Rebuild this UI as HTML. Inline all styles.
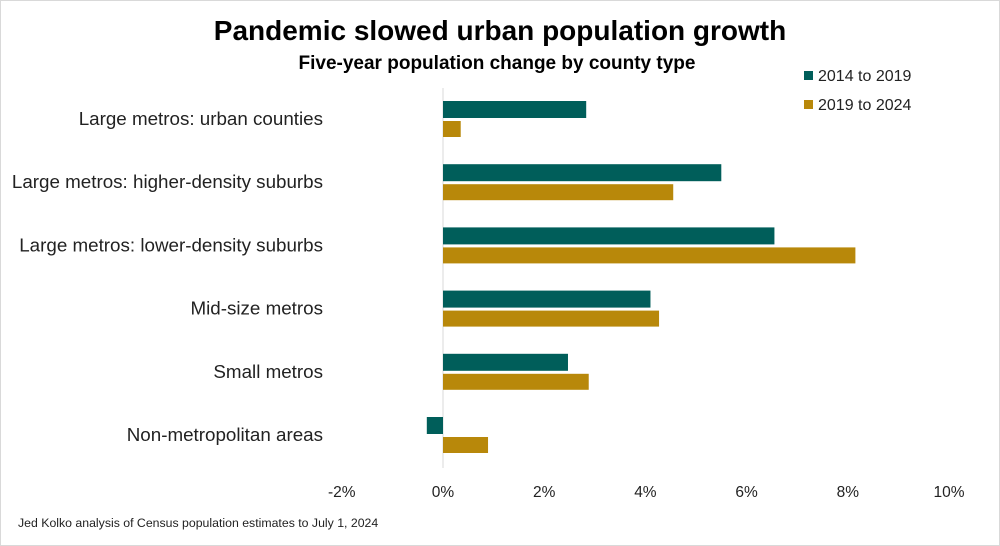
<!DOCTYPE html>
<html><head><meta charset="utf-8"><style>
body{margin:0;background:#fff;font-family:"Liberation Sans",sans-serif}
svg{display:block}
</style></head><body>
<svg id="chart" width="1000" height="546" viewBox="0 0 1000 546">
<rect x="0.5" y="0.5" width="999" height="545" fill="#fff" stroke="#d9d9d9"/>
<text x="500" y="40" text-anchor="middle" font-size="28" font-weight="bold" fill="#000">Pandemic slowed urban population growth</text>
<text x="497" y="69" text-anchor="middle" font-size="19" font-weight="bold" fill="#000">Five-year population change by county type</text>
<rect x="804" y="71" width="9" height="9" fill="#005e5a"/>
<text x="818" y="81" font-size="16" fill="#222">2014 to 2019</text>
<rect x="804" y="100" width="9" height="9" fill="#b8880a"/>
<text x="818" y="110" font-size="16" fill="#222">2019 to 2024</text>
<text x="18" y="527" font-size="12.3" fill="#222">Jed Kolko analysis of Census population estimates to July 1, 2024</text>
<g id="plot"></g>
</svg>
<script>
const categories=["Large metros: urban counties","Large metros: higher-density suburbs","Large metros: lower-density suburbs","Mid-size metros","Small metros","Non-metropolitan areas"];
const series2014=[2.83,5.5,6.55,4.1,2.47,-0.32];
const series2019=[0.35,4.55,8.15,4.27,2.88,0.89];
const tickValues=[-2,0,2,4,6,8,10];
const tickLabels=["-2%","0%","2%","4%","6%","8%","10%"];
const NS="http://www.w3.org/2000/svg";
const g=document.getElementById('plot');
function x(v){return 443+v*50.6;}
function rowY(i){return 101+i*63.2;}
function mk(tag,attrs){const e=document.createElementNS(NS,tag);for(const k in attrs)e.setAttribute(k,attrs[k]);g.appendChild(e);return e;}
const zl=mk('line',{x1:x(0),x2:x(0),y1:88,y2:468,stroke:'#d9d9d9','stroke-width':1});


tickValues.forEach((v,i)=>{
  const t=mk('text',{x:x(v),y:497,'text-anchor':'middle','font-size':15.5,fill:'#222'});
  t.textContent=tickLabels[i];
  
  
});
categories.forEach((c,i)=>{
  const y=rowY(i);
  const t=mk('text',{x:323,y:y+24,'text-anchor':'end','font-size':18.8,fill:'#222'});
  t.textContent=c;
  
  
  const a=series2014[i],b=series2019[i];
  const r1=mk('rect',{x:Math.min(x(0),x(a)),y:y,width:Math.abs(x(a)-x(0)),height:17,fill:'#005e5a'});
  
  
  const r2=mk('rect',{x:Math.min(x(0),x(b)),y:y+20,width:Math.abs(x(b)-x(0)),height:16,fill:'#b8880a'});
  
  
});
</script>
</body></html>
